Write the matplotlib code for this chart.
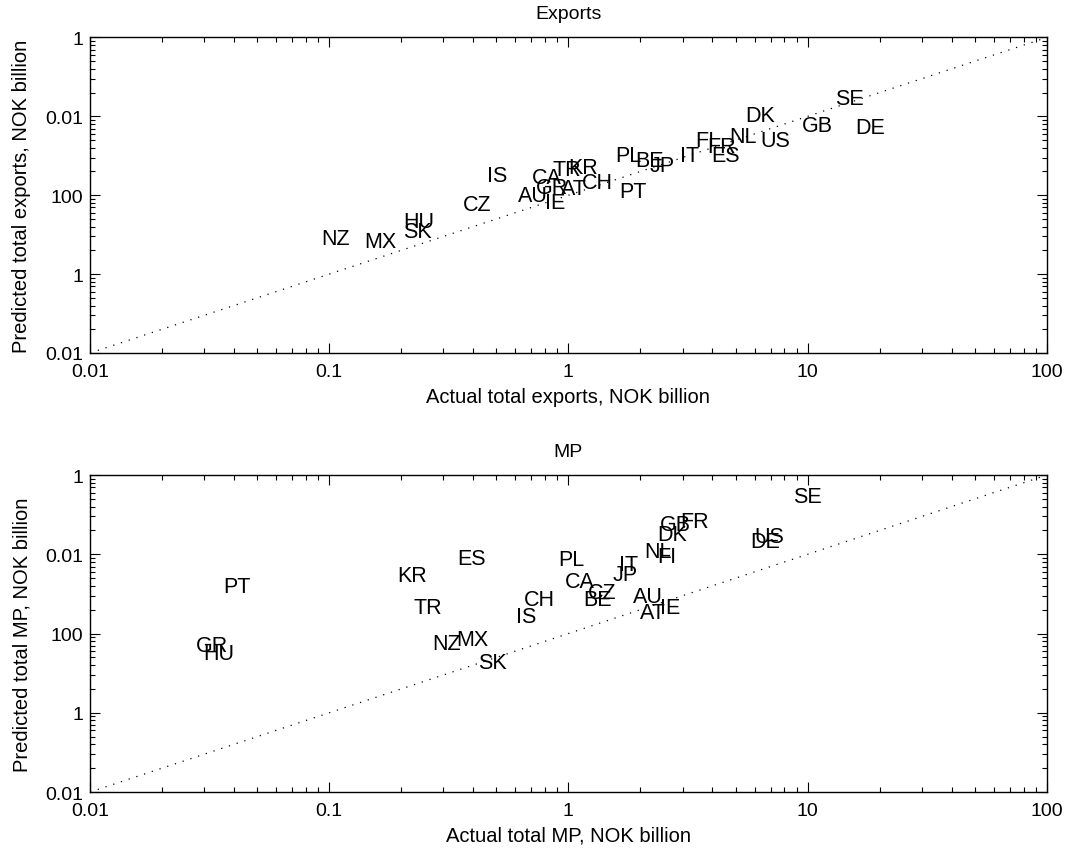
import matplotlib
matplotlib.use("Agg")
import matplotlib.pyplot as plt
from matplotlib.ticker import FixedLocator, FixedFormatter, LogLocator, NullFormatter

plt.rcParams["font.family"] = ["Liberation Sans", "DejaVu Sans"]

# Exports: actual vs predicted (NOK billion)
exp_countries = ["SE", "GB", "DE", "DK", "NL", "US", "FI", "FR", "ES", "IT",
                 "PL", "BE", "JP", "PT", "IS", "TR", "KR", "CA", "CH", "AT",
                 "GR", "AU", "IE", "CZ", "HU", "SK", "NZ", "MX"]
exp_actual = [15.0, 11.0, 18.2, 6.32, 5.37, 7.31, 3.72, 4.39, 4.52, 3.22,
              1.78, 2.19, 2.46, 1.86, 0.504, 0.986, 1.15, 0.815, 1.32, 1.05,
              0.853, 0.711, 0.879, 0.415, 0.237, 0.233, 0.106, 0.163]
exp_pred = [16.6, 7.55, 7.13, 10.2, 5.48, 4.88, 4.88, 4.09, 3.15, 3.15,
            3.15, 2.72, 2.35, 1.10, 1.76, 2.09, 2.22, 1.66, 1.43, 1.20,
            1.27, 0.98, 0.82, 0.753, 0.459, 0.343, 0.279, 0.256]

# MP: actual vs predicted (NOK billion)
mp_countries = ["SE", "GB", "FR", "DK", "US", "DE", "NL", "FI", "IT", "JP",
                "PL", "CA", "CZ", "BE", "AU", "IE", "AT", "CH", "IS", "SK",
                "MX", "NZ", "TR", "ES", "KR", "PT", "GR", "HU"]
mp_actual = [9.95, 2.79, 3.38, 2.71, 6.90, 6.64, 2.37, 2.58, 1.78, 1.72,
             1.03, 1.12, 1.38, 1.32, 2.15, 2.66, 2.26, 0.753, 0.665, 0.480,
             0.395, 0.308, 0.259, 0.395, 0.222, 0.0412, 0.0324, 0.0346]
mp_pred = [54.3, 24.1, 26.3, 18.0, 17.0, 14.7, 10.7, 9.51, 7.53, 5.63,
           8.71, 4.59, 3.34, 2.72, 2.97, 2.16, 1.87, 2.72, 1.66, 0.437,
           0.853, 0.759, 2.16, 8.97, 5.47, 3.97, 0.716, 0.568]

ticks = [0.01, 0.1, 1, 10, 100]
x_labels = ["0.01", "0.1", "1", "10", "100"]
y_labels = ["0.01", "1", "100", "0.01", "1"]


def draw_panel(ax, countries, actual, pred, title, xlabel, ylabel):
    ax.set_xscale("log")
    ax.set_yscale("log")
    ax.set_xlim(0.01, 100)
    ax.set_ylim(0.01, 100)

    # 45-degree reference line
    ax.plot([0.01, 100], [0.01, 100], color="black", lw=0.9,
            linestyle=(0, (1, 5.5)))

    for name, xv, yv in zip(countries, actual, pred):
        ax.text(xv, yv, name, ha="center", va="center", fontsize=15.5)

    ax.xaxis.set_major_locator(FixedLocator(ticks))
    ax.xaxis.set_major_formatter(FixedFormatter(x_labels))
    ax.yaxis.set_major_locator(FixedLocator(ticks))
    ax.yaxis.set_major_formatter(FixedFormatter(y_labels))
    for axis in (ax.xaxis, ax.yaxis):
        axis.set_minor_locator(LogLocator(base=10, subs=range(2, 10), numticks=20))
        axis.set_minor_formatter(NullFormatter())

    ax.tick_params(which="both", direction="in", top=True, right=True,
                   labelsize=14, width=0.8)
    ax.tick_params(axis="x", which="major", length=7, pad=7)
    ax.tick_params(axis="y", which="major", length=7, pad=5)
    ax.tick_params(which="minor", length=3.5)
    for s in ax.spines.values():
        s.set_linewidth(1.0)

    ax.set_title(title, fontsize=14, pad=14)
    ax.set_xlabel(xlabel, fontsize=14.5, labelpad=5)
    ax.set_ylabel(ylabel, fontsize=14.5, labelpad=10)


fig = plt.figure(figsize=(10.68, 8.53), dpi=100)
ax1 = fig.add_axes([0.0843, 0.5850, 0.8958, 0.3699])
ax2 = fig.add_axes([0.0843, 0.0703, 0.8958, 0.3716])

draw_panel(ax1, exp_countries, exp_actual, exp_pred, "Exports",
           "Actual total exports, NOK billion", "Predicted total exports, NOK billion")
draw_panel(ax2, mp_countries, mp_actual, mp_pred, "MP",
           "Actual total MP, NOK billion", "Predicted total MP, NOK billion")

fig.savefig("out.png", dpi=100)
